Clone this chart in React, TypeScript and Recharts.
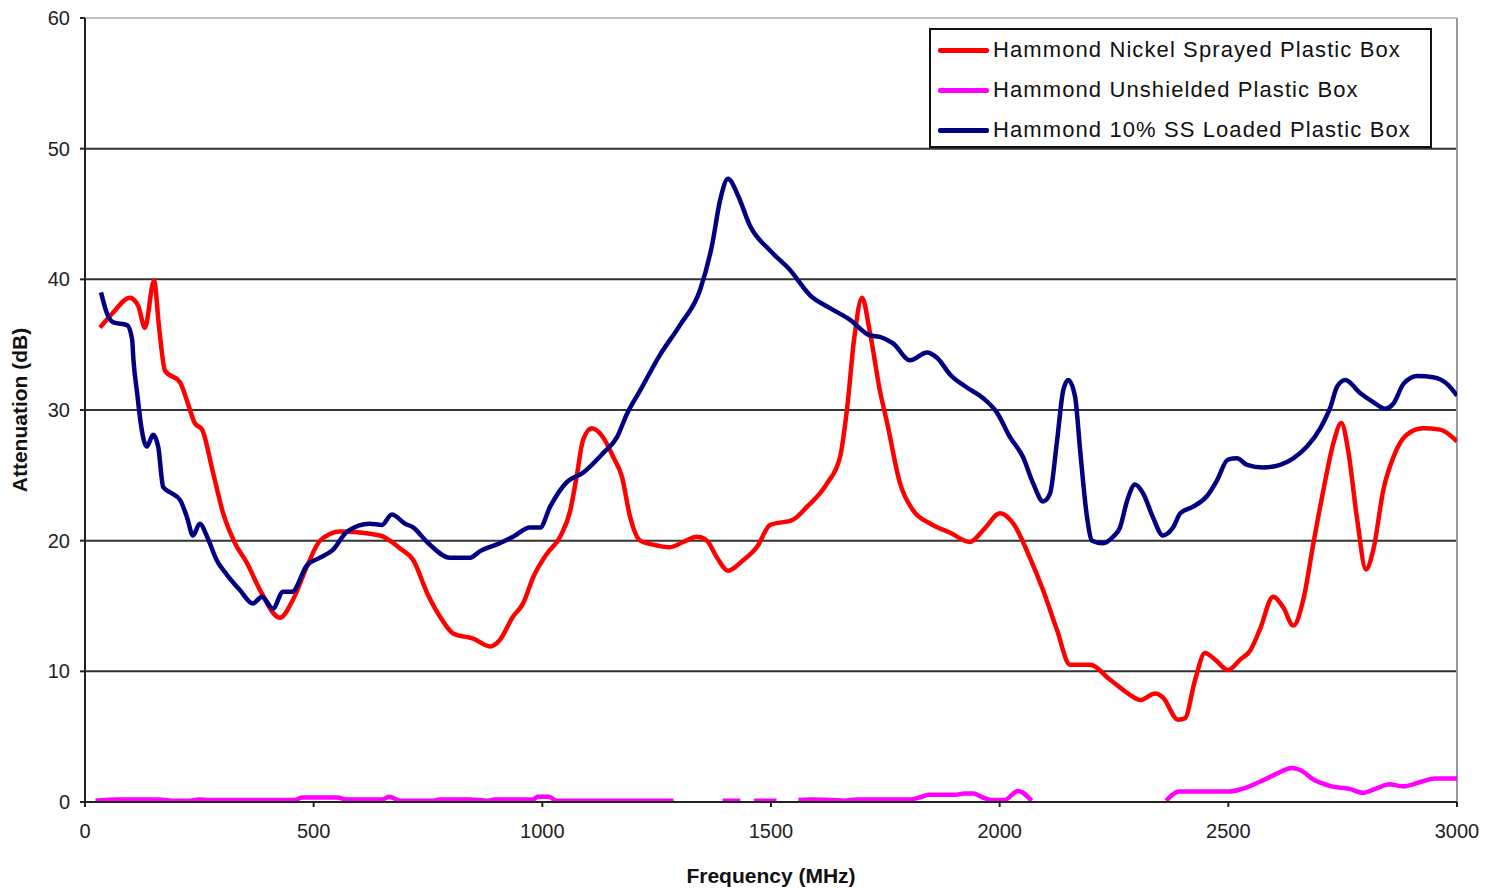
import React from 'react';
import {
  LineChart,
  Line,
  XAxis,
  YAxis,
  CartesianGrid,
  Legend,
  ReferenceLine,
} from 'recharts';

// [frequency MHz, attenuation dB]
const nickelSprayed: [number, number][] = [
  [33, 36.3], [60, 37.4], [98, 38.6], [116, 38.0], [131, 36.3], [151, 39.9], [162, 36.3],
  [175, 33.0], [208, 32.1], [225, 30.5], [240, 29.0], [256, 28.5], [280, 25.2], [302, 22.1],
  [328, 19.8], [354, 18.3], [383, 16.2], [426, 14.1], [455, 15.5], [485, 18.0], [514, 20.0],
  [558, 20.7], [645, 20.4], [689, 19.4], [718, 18.5], [748, 16.0], [776, 14.2], [805, 12.9],
  [849, 12.5], [886, 11.9], [907, 12.4], [936, 14.2], [958, 15.2], [980, 17.2], [1010, 19.0],
  [1039, 20.3], [1061, 22.3], [1075, 24.9], [1089, 27.7], [1108, 28.6], [1133, 27.9],
  [1155, 26.4], [1174, 24.9], [1192, 21.8], [1214, 20.0], [1242, 19.7], [1279, 19.5],
  [1308, 19.9], [1338, 20.3], [1360, 20.0], [1382, 18.7], [1406, 17.7], [1439, 18.5],
  [1469, 19.5], [1498, 21.2], [1548, 21.6], [1579, 22.6], [1623, 24.4], [1651, 26.4],
  [1666, 30.0], [1682, 35.5], [1699, 38.6], [1716, 36.0], [1738, 31.5], [1754, 29.0],
  [1782, 24.4], [1811, 22.3], [1848, 21.3], [1892, 20.6], [1935, 19.9], [1964, 20.8],
  [2001, 22.1], [2030, 21.3], [2066, 18.7], [2095, 16.2], [2125, 13.2], [2154, 10.5],
  [2198, 10.5], [2240, 9.4], [2285, 8.2], [2307, 7.8], [2340, 8.3], [2357, 8.0],
  [2390, 6.3], [2405, 6.4], [2427, 9.3], [2449, 11.4], [2471, 10.9], [2499, 10.1],
  [2526, 10.9], [2548, 11.6], [2569, 13.2], [2598, 15.7], [2620, 14.9], [2642, 13.5],
  [2664, 15.5], [2686, 19.8], [2708, 23.9], [2730, 27.5], [2747, 29.0], [2762, 26.9],
  [2781, 21.8], [2801, 17.8], [2817, 19.3], [2839, 23.9], [2861, 26.4], [2890, 28.1],
  [2925, 28.6], [2963, 28.5], [3000, 27.6],
];

const unshielded: [number, number | null][] = [
  [23, 0.1], [72, 0.2], [160, 0.2], [190, 0.1], [230, 0.1], [250, 0.2], [270, 0.15],
  [460, 0.15], [474, 0.35], [552, 0.35], [570, 0.2], [650, 0.2], [665, 0.4], [690, 0.1],
  [760, 0.1], [775, 0.2], [840, 0.2], [880, 0.1], [895, 0.2], [980, 0.2], [990, 0.4],
  [1015, 0.4], [1030, 0.1], [1287, 0.1], [1300, null], [1394, 0.1], [1433, 0.1],
  [1448, null], [1463, 0.1], [1512, 0.1], [1535, null], [1560, 0.15], [1590, 0.2],
  [1630, 0.15], [1660, 0.1], [1688, 0.2], [1805, 0.2], [1825, 0.35], [1845, 0.55],
  [1903, 0.55], [1923, 0.65], [1943, 0.65], [1960, 0.4], [1982, 0.15], [2010, 0.15],
  [2040, 0.85], [2070, 0.1], [2200, null], [2364, 0.1], [2393, 0.8], [2500, 0.8],
  [2530, 1.0], [2569, 1.55], [2608, 2.2], [2638, 2.6], [2657, 2.45], [2687, 1.7],
  [2726, 1.2], [2765, 1.0], [2794, 0.7], [2824, 1.05], [2853, 1.35], [2882, 1.2],
  [2922, 1.55], [2951, 1.8], [3000, 1.8],
];

const ssLoaded: [number, number][] = [
  [35, 39.0], [48, 37.4], [62, 36.7], [92, 36.5], [103, 35.4], [106, 33.8], [114, 31.3],
  [124, 28.5], [135, 27.2], [149, 28.1], [160, 27.2], [171, 24.1], [186, 23.7], [208, 23.1],
  [223, 21.8], [236, 20.4], [251, 21.3], [267, 20.3], [288, 18.5], [310, 17.4], [339, 16.2],
  [367, 15.2], [387, 15.7], [411, 14.8], [433, 16.1], [453, 16.1], [485, 18.1], [514, 18.7],
  [542, 19.3], [573, 20.7], [623, 21.3], [649, 21.2], [671, 22.0], [700, 21.3], [718, 21.0],
  [748, 19.9], [798, 18.7], [842, 18.7], [864, 19.2], [907, 19.8], [936, 20.3], [973, 21.0],
  [995, 21.0], [1017, 22.6], [1054, 24.5], [1089, 25.2], [1133, 26.7], [1163, 27.9],
  [1185, 29.7], [1214, 31.5], [1257, 34.2], [1301, 36.5], [1345, 39.2], [1371, 42.6],
  [1389, 46.1], [1406, 47.7], [1428, 46.4], [1454, 44.1], [1498, 42.2], [1542, 40.7],
  [1585, 38.8], [1629, 37.8], [1673, 36.9], [1717, 35.7], [1738, 35.6], [1767, 35.1],
  [1804, 33.8], [1841, 34.4], [1863, 34.0], [1892, 32.7], [1929, 31.7], [1964, 30.9],
  [1994, 29.8], [2023, 27.9], [2051, 26.4], [2073, 24.4], [2095, 23.0], [2110, 23.6],
  [2125, 27.5], [2139, 31.5], [2150, 32.3], [2165, 31.0], [2176, 26.9], [2191, 21.8],
  [2202, 20.0], [2226, 19.8], [2248, 20.3], [2263, 21.0], [2279, 23.1], [2296, 24.3],
  [2314, 23.6], [2335, 21.8], [2357, 20.4], [2379, 21.0], [2395, 22.1], [2423, 22.6],
  [2453, 23.4], [2475, 24.6], [2499, 26.2], [2519, 26.3], [2541, 25.8], [2576, 25.6],
  [2613, 25.8], [2642, 26.3], [2672, 27.2], [2701, 28.6], [2723, 30.2], [2738, 31.8],
  [2756, 32.3], [2788, 31.3], [2817, 30.6], [2843, 30.1], [2861, 30.5], [2883, 32.0],
  [2913, 32.6], [2948, 32.5], [2978, 32.0], [3000, 31.1],
];

const seriesNames = [
  'Hammond Nickel Sprayed Plastic Box',
  'Hammond Unshielded Plastic Box',
  'Hammond 10% SS Loaded Plastic Box',
];

const xTicks = [0, 500, 1000, 1500, 2000, 2500, 3000];
const yTicks = [0, 10, 20, 30, 40, 50, 60];

const toRows = (pts: [number, number | null][]) => pts.map(([f, db]) => ({ f, db }));

const FONT = '"Liberation Sans", Arial, sans-serif';

function LegendBox({ payload }: any) {
  const items = [...(payload || [])].sort(
    (a: any, b: any) => seriesNames.indexOf(a.value) - seriesNames.indexOf(b.value)
  );
  return (
    <div
      style={{
        border: '2px solid #111',
        background: '#fff',
        width: 499,
        height: 116,
        fontFamily: FONT,
        fontSize: 22,
        letterSpacing: 1.1,
        color: '#111',
        boxSizing: 'content-box',
      }}
    >
      {items.map((p: any) => (
        <div key={p.value} style={{ display: 'flex', alignItems: 'center', height: 40 }}>
          <span style={{ display: 'inline-block', width: 51, height: 5, borderRadius: 2, background: p.color, marginLeft: 7, marginRight: 4 }} />
          <span>{p.value}</span>
        </div>
      ))}
    </div>
  );
}

export default function App() {
  return (
    <div style={{ position: 'absolute', left: 0, top: 0, width: 1489, height: 893, background: '#fff' }}>
      <LineChart width={1489} height={893} margin={{ top: 18, right: 32, bottom: 16, left: 25 }}>
        <CartesianGrid horizontal vertical={false} horizontalValues={[10, 20, 30, 40, 50]} stroke="#333" strokeWidth={2} />
        <ReferenceLine y={60} stroke="#aaa" strokeWidth={1.5} />
        <ReferenceLine x={3000} stroke="#999" strokeWidth={2} />
        <XAxis
          type="number"
          dataKey="f"
          domain={[0, 3000]}
          ticks={xTicks}
          allowDataOverflow
          height={75}
          stroke="#222"
          strokeWidth={2}
          tickSize={5}
          tickMargin={17}
          tick={{ fill: '#222', fontSize: 20, fontFamily: FONT }}
          label={{ value: 'Frequency (MHz)', position: 'insideBottom', offset: -6, fill: '#111', fontSize: 21, fontWeight: 'bold', fontFamily: FONT }}
        />
        <YAxis
          type="number"
          dataKey="db"
          domain={[0, 60]}
          ticks={yTicks}
          width={60}
          stroke="#222"
          strokeWidth={2}
          tickSize={5}
          tickMargin={10}
          tick={{ fill: '#222', fontSize: 20, fontFamily: FONT }}
          label={{ value: 'Attenuation (dB)', angle: -90, position: 'insideLeft', offset: -5, fill: '#111', fontSize: 21, fontWeight: 'bold', fontFamily: FONT, style: { textAnchor: 'middle' } }}
        />
        <Legend
          layout="vertical"
          align="center"
          verticalAlign="middle"
          wrapperStyle={{ left: 929, top: 28, width: 503, height: 120 }}
          content={<LegendBox />}
        />
        <Line data={toRows(nickelSprayed)} dataKey="db" name={seriesNames[0]} stroke="#ff0000" strokeWidth={4.5} dot={false} type="monotone" isAnimationActive={false} />
        <Line data={toRows(unshielded)} dataKey="db" name={seriesNames[1]} stroke="#ff00ff" strokeWidth={4.5} dot={false} type="monotone" connectNulls={false} isAnimationActive={false} />
        <Line data={toRows(ssLoaded)} dataKey="db" name={seriesNames[2]} stroke="#000080" strokeWidth={4.5} dot={false} type="monotone" isAnimationActive={false} />
      </LineChart>
    </div>
  );
}
